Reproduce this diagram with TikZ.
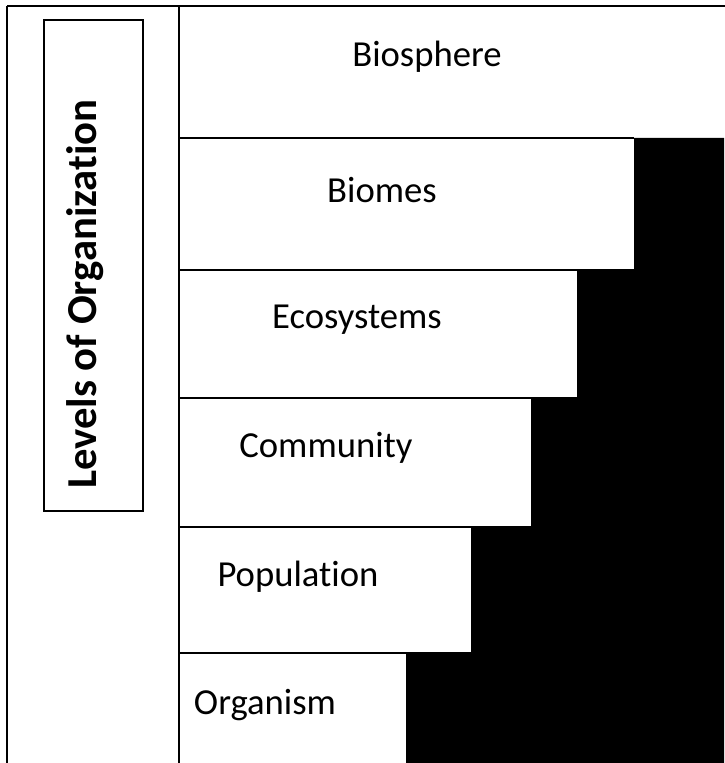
\documentclass[tikz,border=0pt]{standalone}
\usepackage{fontspec}
\setmainfont[Ligatures=NoCommon]{Carlito}

\tikzset{every picture/.style={line width=0.75pt}}
\tikzset{
  rowlabel/.style={inner sep=0.75pt, font=\fontsize{27.5}{32}\selectfont},
  frameline/.style={line width=1.6pt},
}

\begin{document}
\begin{tikzpicture}[x=0.75pt,y=0.75pt,yscale=-1,xscale=1]
    \useasboundingbox (0,0) rectangle (724,763);

    %Shape: Polygon [id:steps]
    \fill [black] (634,138) -- (724,138) -- (724,763) -- (406,763) -- (406,653) -- (471,653) -- (471,527) -- (531,527) -- (531,398) -- (577,398) -- (577,270) -- (634,270) -- cycle ;

    %Straight Lines [id:outer left]
    \draw [frameline]   (7,6) -- (7,770) ;
    %Straight Lines [id:outer top]
    \draw [frameline]   (7,6) -- (730,6) ;
    %Straight Lines [id:divider]
    \draw [frameline]   (179,6) -- (179,770) ;
    %Straight Lines [id:row 1]
    \draw [frameline]   (179,138) -- (634,138) ;
    %Straight Lines [id:row 2]
    \draw [frameline]   (179,270) -- (634,270) ;
    %Straight Lines [id:row 3]
    \draw [frameline]   (179,398) -- (577,398) ;
    %Straight Lines [id:row 4]
    \draw [frameline]   (179,527) -- (531,527) ;
    %Straight Lines [id:row 5]
    \draw [frameline]   (179,653) -- (471,653) ;

    %Shape: Rectangle [id:title box]
    \draw [line width=1pt]  (44,20) rectangle (143,511) ;

    % Text Node
    \node (levels) [rotate=90, inner sep=0.75pt, font=\bfseries\fontsize{32}{36}\selectfont] at (85,294) {Levels of Organization};
    % Text Node
    \node (biosphere) [rowlabel] at (427,57) {Biosphere};
    % Text Node
    \node (biomes) [rowlabel] at (382,190) {Biomes};
    % Text Node
    \node (ecosystems) [rowlabel] at (357,320) {Ecosystems};
    % Text Node
    \node (community) [rowlabel] at (326,448) {Community};
    % Text Node
    \node (population) [rowlabel] at (298,577) {Population};
    % Text Node
    \node (organism) [rowlabel] at (265,705) {Organism};

\end{tikzpicture}
\end{document}
